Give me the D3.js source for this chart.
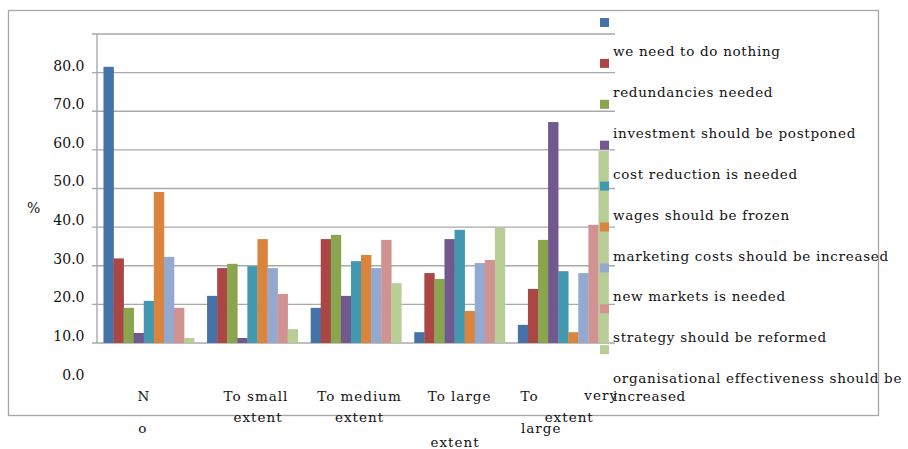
<!DOCTYPE html>
<html>
<head>
<meta charset="utf-8">
<script src="https://cdn.jsdelivr.net/npm/d3@7"></script>
<style>
  html, body { margin: 0; padding: 0; background: #fff; }
  svg { display: block; }
  text { font-family: "DejaVu Serif", serif; fill: #111; }
</style>
</head>
<body>
<svg id="chart" width="908" height="449"></svg>
<script>
// Survey answers by extent, one series per statement (%)
const categories = ["No", "To small extent", "To medium extent", "To large extent", "To very large extent"];

const seriesNames = [
  "we need to do nothing",
  "redundancies needed",
  "investment should be postponed",
  "cost reduction is needed",
  "wages should be frozen",
  "marketing costs should be increased",
  "new markets is needed",
  "strategy should be reformed",
  "organisational effectiveness should be increased"
];

const seriesColors = ["#4572A7", "#AA4643", "#89A54E", "#71588F", "#4198AF", "#DB843D", "#93A9CF", "#D19392", "#B9CD96"];

// values per series, in category order
const nothingValues       = [81.5, 22.2, 19.1, 12.8, 14.7];
const redundancyValues    = [31.9, 29.4, 36.9, 28.1, 24.0];
const investmentValues    = [19.1, 30.5, 38.0, 26.6, 36.7];
const costValues          = [12.6, 11.3, 22.2, 36.9, 67.2];
const wagesValues         = [20.9, 29.9, 31.2, 39.3, 28.6];
const marketingValues     = [49.1, 36.9, 32.8, 18.3, 12.8];
const newMarketsValues    = [32.3, 29.4, 29.4, 30.7, 28.1];
const strategyValues      = [19.1, 22.7, 36.7, 31.5, 40.6];
const effectivenessValues = [11.3, 13.6, 25.5, 39.8, 59.7];

const seriesValues = [nothingValues, redundancyValues, investmentValues, costValues, wagesValues,
                      marketingValues, newMarketsValues, strategyValues, effectivenessValues];

const yTickLabels = [0, 10, 20, 30, 40, 50, 60, 70, 80];
const gridValues  = [10, 20, 30, 40, 50, 60, 70, 80, 90];

// category captions as wrapped pieces: [text, dx from band centre, line baseline]
const categoryPieces = [
  [["N", -5, 401], ["o", -6, 433]],
  [["To small", 3.6, 401], ["extent", 5.6, 422]],
  [["To medium", 3.5, 401], ["extent", 3.5, 422]],
  [["To large", 0, 401], ["extent", -4.6, 447]],
  [["To", -33.7, 401], ["very", 38, 400], ["extent", 6, 422], ["large", -22, 433]]
];

const svg = d3.select("#chart");

const plot = { left: 97, right: 615, top: 34, bottom: 343 };

// outer frame
svg.append("rect")
  .attr("x", 8.5).attr("y", 10.5)
  .attr("width", 870).attr("height", 405)
  .attr("fill", "none").attr("stroke", "#a6a6a6").attr("stroke-width", 1.3);

const x0 = d3.scaleBand().domain(categories)
  .range([plot.left, plot.right]).paddingInner(0.125).paddingOuter(0.0625);
const x1 = d3.scaleBand().domain(d3.range(seriesNames.length))
  .range([0, x0.bandwidth()]);
const y = d3.scaleLinear().domain([10, 90]).range([plot.bottom, plot.top]);

// gridlines with their short tick stubs
svg.append("g").selectAll("line").data(gridValues).join("line")
  .attr("x1", plot.left - 5).attr("x2", plot.right)
  .attr("y1", d => y(d)).attr("y2", d => y(d))
  .attr("stroke", "#a9a9a9").attr("stroke-width", 1.4);

// vertical axis line
svg.append("line")
  .attr("x1", plot.left).attr("x2", plot.left)
  .attr("y1", y(90)).attr("y2", y(10))
  .attr("stroke", "#a9a9a9").attr("stroke-width", 1.4);

// axis labels
const yAxis = d3.axisLeft(y).tickValues(yTickLabels).tickSize(0).tickPadding(12.5)
  .tickFormat(d3.format(".1f"));
const yg = svg.append("g").attr("transform", `translate(${plot.left},-7)`).call(yAxis);
yg.select(".domain").remove();
yg.selectAll("text").attr("font-family", "DejaVu Serif, serif").attr("font-size", 14).attr("fill", "#111");

svg.append("text").attr("x", 27).attr("y", 213).attr("font-size", 14).text("%");

// bars
const groups = svg.append("g").selectAll("g").data(categories).join("g")
  .attr("transform", d => `translate(${x0(d)},0)`);

groups.selectAll("rect")
  .data((c, ci) => seriesValues.map((vals, si) => ({ si, v: vals[ci] })))
  .join("rect")
  .attr("x", d => x1(d.si))
  .attr("width", x1.bandwidth() + 0.3)
  .attr("y", d => y(d.v))
  .attr("height", d => y(10) - y(d.v))
  .attr("fill", d => seriesColors[d.si]);

// category captions
const capG = svg.append("g").selectAll("g").data(categories).join("g");
capG.each(function (c, ci) {
  const cx = x0(c) + x0.bandwidth() / 2;
  d3.select(this).selectAll("text").data(categoryPieces[ci]).join("text")
    .attr("x", p => cx + p[1]).attr("y", p => p[2])
    .attr("text-anchor", "middle").attr("font-size", 13.5)
    .attr("letter-spacing", 1)
    .text(p => p[0]);
});

// legend
const legend = svg.append("g");
const legendStep = 40.9;
legend.selectAll("rect").data(seriesNames).join("rect")
  .attr("x", 600).attr("y", (d, i) => 18 + i * legendStep)
  .attr("width", 9).attr("height", 9)
  .attr("fill", (d, i) => seriesColors[i]);

legend.selectAll("text").data(seriesNames).join("text")
  .attr("x", 613).attr("y", (d, i) => 56 + i * legendStep)
  .attr("font-size", 13.5)
  .attr("letter-spacing", 0.7)
  .each(function (d) {
    const t = d3.select(this);
    const parts = d === "organisational effectiveness should be increased"
      ? ["organisational effectiveness should be", "increased"] : [d];
    parts.forEach((p, k) => {
      t.append("tspan").attr("x", 613).attr("dy", k === 0 ? 0 : 18).text(p);
    });
  });
</script>
</body>
</html>
